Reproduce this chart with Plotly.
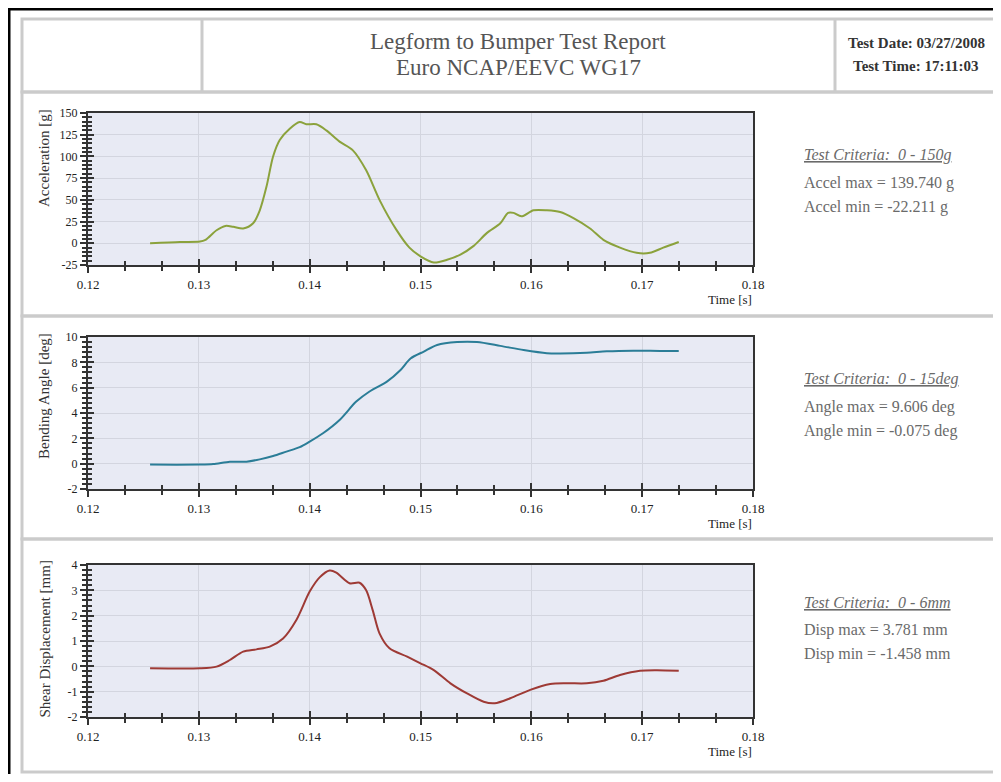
import plotly.graph_objects as go

# ---------------- data ----------------
accel_t = [0.1256, 0.1283, 0.1301, 0.1306, 0.1316, 0.1324, 0.1331, 0.1340, 0.1349, 0.1355,
           0.1361, 0.1367, 0.1373, 0.1382, 0.1391, 0.1397, 0.1406, 0.1415, 0.1427, 0.1439,
           0.1451, 0.1463, 0.1478, 0.1490, 0.1500, 0.1512, 0.1524, 0.1536, 0.1548, 0.1560,
           0.1572, 0.1579, 0.1584, 0.1591, 0.1602, 0.1614, 0.1626, 0.1638, 0.1653, 0.1665,
           0.1680, 0.1695, 0.1707, 0.1719, 0.1733]
accel_v = [0.0, 1.5, 2.0, 4.0, 15.0, 20.0, 19.0, 17.0, 23.0, 38.0,
           65.0, 100.0, 119.0, 132.0, 139.7, 137.0, 137.0, 130.0, 117.0, 107.0,
           84.0, 50.0, 16.0, -5.0, -15.0, -22.2, -19.0, -13.0, -3.0, 12.0,
           23.0, 35.0, 35.0, 31.0, 38.0, 38.0, 36.0, 29.0, 17.0, 4.0,
           -5.0, -11.0, -11.0, -5.0, 1.5]

angle_t = [0.1256, 0.1301, 0.1313, 0.1328, 0.1343, 0.1355, 0.1367, 0.1379, 0.1391, 0.1400,
           0.1412, 0.1427, 0.1442, 0.1454, 0.1470, 0.1482, 0.1491, 0.1503, 0.1515, 0.1533,
           0.1551, 0.1572, 0.1593, 0.1614, 0.1626, 0.1650, 0.1668, 0.1692, 0.1716, 0.1733]
angle_v = [-0.075, -0.07, -0.03, 0.15, 0.16, 0.34, 0.6, 0.95, 1.3, 1.74,
           2.4, 3.45, 4.9, 5.7, 6.5, 7.4, 8.3, 8.85, 9.37, 9.6,
           9.6, 9.3, 8.97, 8.72, 8.7, 8.76, 8.87, 8.92, 8.9, 8.9]

disp_t = [0.1256, 0.1301, 0.1316, 0.1328, 0.1340, 0.1352, 0.1364, 0.1376, 0.1388, 0.1400,
          0.1409, 0.1418, 0.1424, 0.1436, 0.1445, 0.1451, 0.1457, 0.1463, 0.1472, 0.1488,
          0.1500, 0.1512, 0.1527, 0.1542, 0.1557, 0.1567, 0.1581, 0.1599, 0.1617, 0.1632,
          0.1650, 0.1665, 0.1680, 0.1698, 0.1713, 0.1733]
disp_v = [-0.08, -0.08, -0.01, 0.25, 0.58, 0.67, 0.78, 1.1, 1.83, 2.95,
          3.51, 3.78, 3.7, 3.28, 3.3, 3.0, 2.2, 1.3, 0.71, 0.38,
          0.12, -0.15, -0.67, -1.07, -1.4, -1.458, -1.26, -0.93, -0.7, -0.67,
          -0.67, -0.57, -0.34, -0.17, -0.15, -0.17]

x_ticks = [0.12, 0.13, 0.14, 0.15, 0.16, 0.17, 0.18]
x_ticktext = ["0.12", "0.13", "0.14", "0.15", "0.16", "0.17", "0.18"]

accel_ticks = [-25, 0, 25, 50, 75, 100, 125, 150]
accel_ticktext = ["-25", "0", "25", "50", "75", "100", "125", "150"]
angle_ticks = [-2, 0, 2, 4, 6, 8, 10]
angle_ticktext = ["-2", "0", "2", "4", "6", "8", "10"]
disp_ticks = [-2, -1, 0, 1, 2, 3, 4]
disp_ticktext = ["-2", "-1", "0", "1", "2", "3", "4"]

y_titles = ["Acceleration [g]", "Bending Angle [deg]", "Shear Displacement [mm]"]
criteria = ["Test Criteria:  0 - 150g", "Test Criteria:  0 - 15deg", "Test Criteria:  0 - 6mm"]
max_texts = ["Accel max = 139.740 g", "Angle max = 9.606 deg", "Disp max = 3.781 mm"]
min_texts = ["Accel min = -22.211 g", "Angle min = -0.075 deg", "Disp min = -1.458 mm"]

header_title = ["Legform to Bumper Test Report", "Euro NCAP/EEVC WG17"]
header_info = ["Test Date: 03/27/2008", "Test Time: 17:11:03"]

# ---------------- layout helpers ----------------
# page coordinates are converted to figure paper coordinates;
# the figure sits inside the page's default 8px body margin.
PAGE_W, PAGE_H = 1001, 782
OX, OY = 8, 8
W, H = PAGE_W - 2 * OX, PAGE_H - 2 * OY


def px(x):
    return (x - OX) / W


def py(y):
    return 1 - (y - OY) / H


FONT = "Liberation Serif"
AXCOL = "#333333"
GRID = "#d3d5df"
PLOTBG = "#e8eaf4"
BOXCOL = "#cbcbcb"
TXTGRAY = "#6a6a6a"

panels = [
    dict(t=accel_t, v=accel_v, color="#8ba23c", yr=[-25, 150], tv=accel_ticks, tt=accel_ticktext,
         minor=5, top=113, bot=265, box=(92, 316)),
    dict(t=angle_t, v=angle_v, color="#2b7d97", yr=[-2, 10], tv=angle_ticks, tt=angle_ticktext,
         minor=0.4, top=337, bot=489, box=(316, 539)),
    dict(t=disp_t, v=disp_v, color="#9e3a35", yr=[-2, 4], tv=disp_ticks, tt=disp_ticktext,
         minor=0.2, top=565, bot=717, box=(539, 772)),
]

fig = go.Figure()
layout = dict(
    width=W, height=H, margin=dict(l=0, r=0, t=0, b=0, pad=0, autoexpand=False),
    paper_bgcolor="white", plot_bgcolor=PLOTBG, showlegend=False,
    font=dict(family=FONT, color="#222222"),
)
shapes = []
annotations = []

xdom = [px(88), px(753)]

for i, p in enumerate(panels):
    k = i + 1
    ko = i + 4
    xn = "x" if k == 1 else f"x{k}"
    yn = "y" if k == 1 else f"y{k}"
    fig.add_trace(go.Scatter(x=p["t"], y=p["v"], mode="lines", xaxis=xn, yaxis=yn,
                             line=dict(color=p["color"], width=2, shape="spline", smoothing=0.8),
                             hoverinfo="skip"))
    # empty trace for overlay axes (inner half of crossing ticks)
    fig.add_trace(go.Scatter(x=[], y=[], xaxis=f"x{ko}", yaxis=f"y{ko}", hoverinfo="skip"))
    ydom = [py(p["bot"]), py(p["top"])]
    layout["xaxis" if k == 1 else f"xaxis{k}"] = dict(
        domain=xdom, anchor=yn, range=[0.12, 0.18], tickmode="array", automargin=False,
        tickvals=x_ticks, ticktext=x_ticktext, ticks="outside", ticklen=6, tickwidth=2,
        tickcolor=AXCOL, showline=True, linecolor=AXCOL, linewidth=2, mirror=True,
        showgrid=True, gridcolor=GRID, gridwidth=1, zeroline=False,
        tickfont=dict(family=FONT, size=13, color="#222222"),
        minor=dict(tickmode="linear", tick0=0.12, dtick=0.01 / 3, ticks="outside",
                   ticklen=4, tickwidth=1.5, tickcolor=AXCOL, showgrid=False),
    )
    layout["yaxis" if k == 1 else f"yaxis{k}"] = dict(
        domain=ydom, anchor=xn, range=p["yr"], tickmode="array", tickvals=p["tv"],
        ticktext=p["tt"], ticks="outside", ticklen=6, tickwidth=2, tickcolor=AXCOL,
        showline=True, linecolor=AXCOL, linewidth=2, mirror=True, automargin=False,
        showgrid=True, gridcolor=GRID, gridwidth=1, zeroline=False,
        tickfont=dict(family=FONT, size=12, color="#222222"),
        minor=dict(tickmode="linear", tick0=p["yr"][0], dtick=p["minor"], ticks="outside",
                   ticklen=4, tickwidth=1.5, tickcolor=AXCOL, showgrid=False),
    )
    layout[f"xaxis{ko}"] = dict(
        overlaying=xn, anchor=f"y{ko}", range=[0.12, 0.18], tickmode="array",
        tickvals=x_ticks, ticks="inside", ticklen=6, tickwidth=2, tickcolor=AXCOL,
        showticklabels=False, showgrid=False, zeroline=False, showline=False, automargin=False,
        minor=dict(tickmode="linear", tick0=0.12, dtick=0.01 / 3, ticks="inside",
                   ticklen=4, tickwidth=1.5, tickcolor=AXCOL, showgrid=False),
    )
    layout[f"yaxis{ko}"] = dict(
        overlaying=yn, anchor=f"x{ko}", range=p["yr"], tickmode="array", tickvals=p["tv"],
        ticks="inside", ticklen=6, tickwidth=2, tickcolor=AXCOL, automargin=False,
        showticklabels=False, showgrid=False, zeroline=False, showline=False,
        minor=dict(tickmode="linear", tick0=p["yr"][0], dtick=p["minor"], ticks="inside",
                   ticklen=4, tickwidth=1.5, tickcolor=AXCOL, showgrid=False),
    )
    # panel box
    shapes.append(dict(type="rect", xref="paper", yref="paper", x0=px(22), x1=px(995),
                       y0=py(p["box"][1]), y1=py(p["box"][0]),
                       line=dict(color=BOXCOL, width=3), fillcolor="rgba(0,0,0,0)"))
    # y title
    annotations.append(dict(xref="paper", yref="paper", x=px(44), y=py(p["top"] - 6),
                            xanchor="center", yanchor="top", textangle=-90, showarrow=False,
                            text=y_titles[i], font=dict(family=FONT, size=15, color="#333333")))
    # x title
    annotations.append(dict(xref="paper", yref="paper", x=px(754), y=py(p["bot"] + 34),
                            xanchor="right", yanchor="middle", showarrow=False,
                            text="Time [s]", font=dict(family=FONT, size=13, color="#222222")))
    # right text
    base = p["box"][0]
    annotations.append(dict(xref="paper", yref="paper", x=px(802), y=py(base + 63),
                            xanchor="left", yanchor="middle", showarrow=False,
                            text="<i><u>" + criteria[i] + "</u></i>",
                            font=dict(family=FONT, size=16, color=TXTGRAY)))
    annotations.append(dict(xref="paper", yref="paper", x=px(802), y=py(base + 91),
                            xanchor="left", yanchor="middle", showarrow=False,
                            text=max_texts[i], font=dict(family=FONT, size=16, color=TXTGRAY)))
    annotations.append(dict(xref="paper", yref="paper", x=px(802), y=py(base + 115),
                            xanchor="left", yanchor="middle", showarrow=False,
                            text=min_texts[i], font=dict(family=FONT, size=16, color=TXTGRAY)))

# header box
shapes.append(dict(type="rect", xref="paper", yref="paper", x0=px(22), x1=px(995),
                   y0=py(92), y1=py(19), line=dict(color=BOXCOL, width=3),
                   fillcolor="rgba(0,0,0,0)"))
for xv in (202, 835):
    shapes.append(dict(type="line", xref="paper", yref="paper", x0=px(xv), x1=px(xv),
                       y0=py(92), y1=py(19), line=dict(color=BOXCOL, width=3)))
annotations.append(dict(xref="paper", yref="paper", x=px(518), y=py(41), showarrow=False,
                        xanchor="center", yanchor="middle", text=header_title[0],
                        font=dict(family=FONT, size=23, color="#555555")))
annotations.append(dict(xref="paper", yref="paper", x=px(518), y=py(68), showarrow=False,
                        xanchor="center", yanchor="middle", text=header_title[1],
                        font=dict(family=FONT, size=23, color="#555555")))
annotations.append(dict(xref="paper", yref="paper", x=px(916), y=py(43), showarrow=False,
                        xanchor="center", yanchor="middle", text="<b>" + header_info[0] + "</b>",
                        font=dict(family=FONT, size=15, color="#333333")))
annotations.append(dict(xref="paper", yref="paper", x=px(916), y=py(66), showarrow=False,
                        xanchor="center", yanchor="middle", text="<b>" + header_info[1] + "</b>",
                        font=dict(family=FONT, size=15, color="#333333")))

# black frame (left and top edges)
shapes.append(dict(type="line", xref="paper", yref="paper", x0=px(9), x1=px(9),
                   y0=0, y1=py(8), line=dict(color="black", width=3)))
shapes.append(dict(type="line", xref="paper", yref="paper", x0=px(8), x1=1,
                   y0=py(9), y1=py(9), line=dict(color="black", width=3)))

layout["shapes"] = shapes
layout["annotations"] = annotations
fig.update_layout(**layout)
fig.write_html("out.html")
